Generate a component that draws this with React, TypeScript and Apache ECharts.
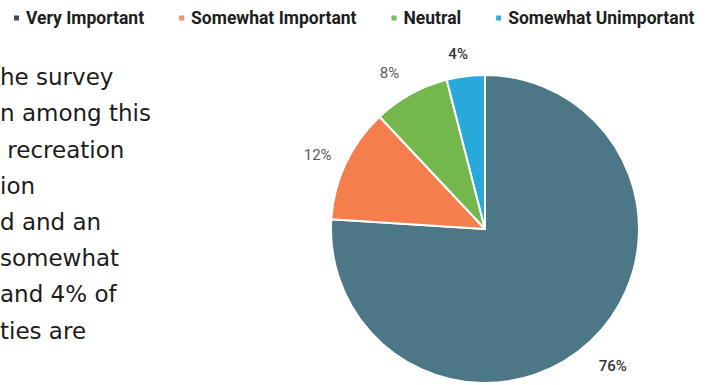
import React, { useEffect, useRef } from "react";
import * as echarts from "echarts";

const categories = ["Very Important", "Somewhat Important", "Neutral", "Somewhat Unimportant"];
const values = [76, 12, 8, 4];
const colors = ["#4b7787", "#f47f4c", "#73b74d", "#28a9dc"];
const legendIconColors = ["#444c51", "#f7936a", "#7dbb5c", "#32aee0"];
const paragraphLines = [
  "he survey",
  "n among this",
  " recreation",
  "ion",
  "d and an",
  "somewhat",
  "and 4% of",
  "ties are",
];

// per-slice label placement tuning (leader length / distance)
const labelLen = [34, 20, 24, 22];
const labelDist = [-15, -4, 0, -5];
const labelColor = ["#333333", "#5a5a5a", "#5a5a5a", "#333333"];
const labelWeight = [500, 400, 400, 500];

export default function App() {
  const ref = useRef<HTMLDivElement>(null);
  useEffect(() => {
    if (!ref.current) return;
    const chart = echarts.init(ref.current, null, { renderer: "svg" });
    const data = categories.map((name, i) => ({
      name,
      value: values[i],
      itemStyle: { color: colors[i] },
      label: {
        distanceToLabelLine: labelDist[i],
        color: labelColor[i],
        fontWeight: labelWeight[i],
      },
      labelLine: { show: false, length: labelLen[i], length2: 0 },
    }));
    chart.setOption({
      animation: false,
      backgroundColor: "#ffffff",
      legend: {
        left: 7,
        top: 4,
        itemWidth: 9,
        itemHeight: 7,
        itemGap: 33,
        icon: "path://M0,0H10V10H0Z",
        textStyle: {
          fontFamily: "Roboto",
          fontWeight: "bold",
          fontSize: 17.5,
          color: "#1e1e1e",
        },
        data: categories.map((name, i) => ({ name, itemStyle: { color: legendIconColors[i] } })),
      },
      graphic: [
        {
          type: "text",
          left: 0,
          top: 59,
          style: {
            text: paragraphLines.join("\n"),
            fontFamily: "DejaVu Sans",
            fontSize: 23,
            lineHeight: 36.2,
            fill: "#1c1c1c",
          },
        },
      ],
      series: [
        {
          type: "pie",
          center: [485, 229],
          radius: 154,
          startAngle: 90,
          clockwise: true,
          avoidLabelOverlap: false,
          itemStyle: { borderColor: "#ffffff", borderWidth: 2 },
          label: {
            show: true,
            position: "outside",
            formatter: "{d}%",
            fontFamily: "Roboto",
            fontSize: 15,
          },
          labelLine: { show: false },
          emphasis: { disabled: true },
          data,
        },
      ],
    });
    return () => chart.dispose();
  }, []);
  return (
    <div
      ref={ref}
      style={{ position: "absolute", left: 0, top: 0, width: 713, height: 385 }}
    />
  );
}
